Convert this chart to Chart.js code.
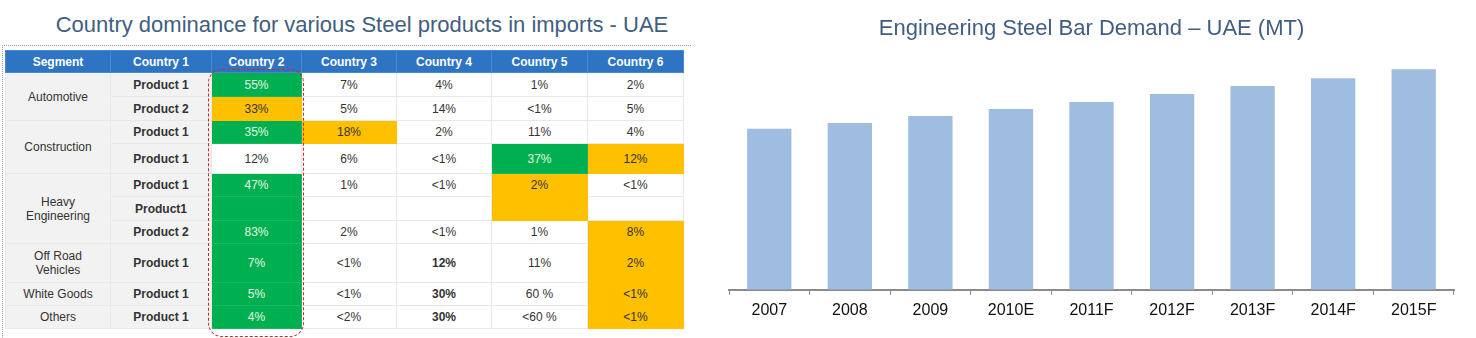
<!DOCTYPE html>
<html>
<head>
<meta charset="utf-8">
<title>UAE Steel</title>
<script src="https://cdn.jsdelivr.net/npm/chart.js@4.4.0/dist/chart.umd.min.js"></script>
<style>
    html, body { margin: 0; padding: 0; background: #fff; }
    body { width: 1476px; height: 338px; position: relative; overflow: hidden;
           font-family: "Liberation Sans", Arial, sans-serif; }
    .panel-title { position: absolute; top: 12px; color: #3f5e80; font-size: 22px;
                   white-space: nowrap; transform: translateX(-50%); }
    .guide { position: absolute; left: 2px; top: 45px; width: 688px; height: 300px;
             border-left: 1px dotted #9a9a9a; border-top: 1px dotted #9a9a9a; }
    #imports { position: absolute; left: 5px; top: 50px; border-collapse: collapse;
               table-layout: fixed; font-size: 12px; color: #333; }
    #imports th, #imports td { border: 1px solid #e8e8e8; text-align: center;
                               vertical-align: middle; padding: 0; line-height: 14px; }
    #imports th { background: #2e74c4; color: #fff; font-weight: bold;
                  border-color: #4a88cf; }
    #imports td.seg { background: #f2f2f2; }
    #imports td.prod { background: #f2f2f2; font-weight: bold; }
    #imports td.G { background: #00b050; color: #e4f7e4; border-color: #14b85e; }
    #imports td.O { background: #ffc000; color: #333; border-color: #ffc000; }
    #imports td.b { font-weight: bold; }
    .focus { position: absolute; left: 208px; top: 69px; width: 94px; height: 266px;
             border: 1px dashed #d42424; border-radius: 14px; pointer-events: none; }
    #demand-wrap { position: absolute; left: 700px; top: 0; width: 776px; height: 338px; }
</style>
</head>
<body>

<div class="panel-title" style="left:362px">Country dominance for various Steel products in imports - UAE</div>
<div class="guide"></div>
<table id="imports"></table>
<div class="focus"></div>

<div id="demand-wrap"><canvas id="demand-chart"></canvas></div>

<script>
(function() {
    'use strict';

    // Import share table
    const headers = ['Segment', 'Country 1', 'Country 2', 'Country 3', 'Country 4', 'Country 5', 'Country 6'];
    const colWidths = [105, 101, 90, 95, 95, 96, 96];
    const segmentNames = ['Automotive', 'Construction', 'Heavy<br>Engineering', 'Off Road<br>Vehicles', 'White Goods', 'Others'];
    const segmentSpans = [2, 2, 3, 1, 1, 1];
    const products = ['Product 1', 'Product 2', 'Product 1', 'Product 1', 'Product 1',
                      'Product1', 'Product 2', 'Product 1', 'Product 1', 'Product 1'];
    const rowHeights = [24, 24, 23, 30, 23, 24, 23, 39, 23, 23];
    const shares = [
        ['55%', '7%', '4%', '1%', '2%'],
        ['33%', '5%', '14%', '<1%', '5%'],
        ['35%', '18%', '2%', '11%', '4%'],
        ['12%', '6%', '<1%', '37%', '12%'],
        ['47%', '1%', '<1%', '2%', '<1%'],
        ['', '', '', '', ''],
        ['83%', '2%', '<1%', '1%', '8%'],
        ['7%', '<1%', '12%', '11%', '2%'],
        ['5%', '<1%', '30%', '60 %', '<1%'],
        ['4%', '<2%', '30%', '<60 %', '<1%'],
    ];
    // G = leading supplier, O = secondary supplier
    const highlights = [
        ['G', '', '', '', ''],
        ['O', '', '', '', ''],
        ['G', 'O', '', '', ''],
        ['', '', '', 'G', 'O'],
        ['G', '', '', 'O', ''],
        ['G', '', '', 'O', ''],
        ['G', '', '', '', 'O'],
        ['G', '', '', '', 'O'],
        ['G', '', '', '', 'O'],
        ['G', '', '', '', 'O'],
    ];
    const boldShares = [[7, 2], [8, 2], [9, 2]];

    // Engineering steel bar demand
    const years = ['2007', '2008', '2009', '2010E', '2011F', '2012F', '2013F', '2014F', '2015F'];
    const demand = [162, 168, 175, 182, 189, 197, 205, 213, 222];

    function buildTable() {
        const table = document.getElementById('imports');
        let html = '<colgroup>' + colWidths.map(w => `<col style="width:${w}px">`).join('') + '</colgroup>';
        html += '<tr style="height:22px">' + headers.map(h => `<th>${h}</th>`).join('') + '</tr>';

        const segStart = [];
        let acc = 0;
        segmentSpans.forEach(s => { segStart.push(acc); acc += s; });

        products.forEach((prod, r) => {
            html += `<tr style="height:${rowHeights[r]}px">`;
            const si = segStart.indexOf(r);
            if (si >= 0) {
                html += `<td class="seg" rowspan="${segmentSpans[si]}">${segmentNames[si]}</td>`;
            }
            html += `<td class="prod">${prod}</td>`;
            shares[r].forEach((val, c) => {
                const cls = [highlights[r][c]];
                if (boldShares.some(([br, bc]) => br === r && bc === c)) cls.push('b');
                const text = val.replace('<', '&lt;');
                html += `<td class="${cls.join(' ').trim()}">${text}</td>`;
            });
            html += '</tr>';
        });
        table.innerHTML = html;
        table.style.width = colWidths.reduce((a, b) => a + b, 0) + 'px';
    }

    function initChart() {
        const canvas = document.getElementById('demand-chart');
        new Chart(canvas, {
            type: 'bar',
            data: {
                labels: years,
                datasets: [{
                    label: 'Demand (MT)',
                    data: demand,
                    backgroundColor: '#9fbde0',
                    borderWidth: 0,
                    barPercentage: 0.55,
                    categoryPercentage: 1,
                }],
            },
            options: {
                responsive: true,
                maintainAspectRatio: false,
                animation: false,
                layout: { padding: { left: 29, right: 22, top: 0, bottom: 12 } },
                plugins: {
                    legend: { display: false },
                    tooltip: { enabled: false },
                    title: {
                        display: true,
                        text: 'Engineering Steel Bar Demand – UAE (MT)',
                        color: '#3f5e80',
                        font: { family: '"Liberation Sans", Arial, sans-serif', size: 22, weight: 'normal' },
                        padding: { top: 16, bottom: 0 },
                    },
                },
                scales: {
                    x: {
                        offset: true,
                        grid: {
                            display: true,
                            drawOnChartArea: false,
                            drawTicks: true,
                            tickLength: 5,
                            tickColor: '#8a8a8a',
                            offset: true,
                        },
                        border: { display: true, color: '#8a8a8a', width: 2 },
                        ticks: {
                            color: '#111',
                            padding: 6,
                            font: { family: '"Liberation Sans", Arial, sans-serif', size: 16 },
                        },
                    },
                    y: { display: false, min: 0, max: 249 },
                },
            },
        });
    }

    buildTable();
    initChart();
})();
</script>
</body>
</html>
